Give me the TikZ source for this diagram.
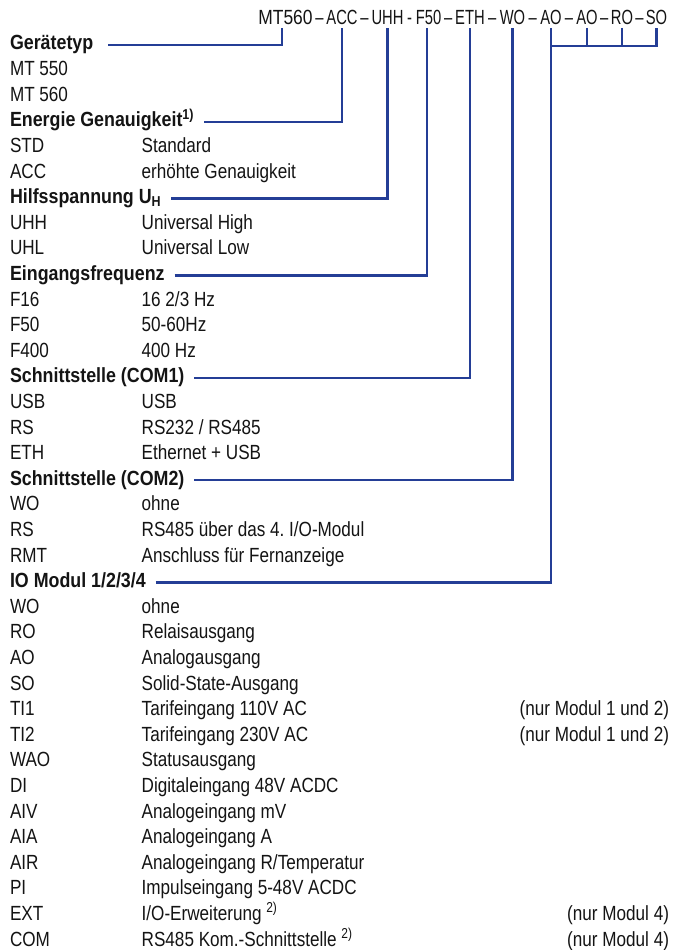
\documentclass[tikz,border=0pt]{standalone}
\usepackage{fontspec}
\usetikzlibrary{calc}
\newfontfamily\condfont[FakeStretch=0.835, BoldFeatures={FakeStretch=0.87}]{Liberation Sans}
\newfontfamily\topfont[FakeStretch=0.72]{Liberation Sans}
\newfontfamily\topwide[FakeStretch=0.85]{Liberation Sans}
\definecolor{linkblue}{RGB}{36,62,150}
\definecolor{ink}{RGB}{20,20,20}
\tikzset{
  txt/.style={inner sep=0pt, outer sep=0pt, anchor=base west, text=ink, font=\condfont\frenchspacing\fontsize{20.5}{24}\selectfont},
  hdr/.style={txt, font=\condfont\bfseries\fontsize{20.5}{24}\selectfont},
  codetop/.style={txt, anchor=base, text depth=0pt, font=\topfont\fontsize{20.5}{24}\selectfont},
  codewide/.style={codetop, font=\topwide\fontsize{20.5}{24}\selectfont},
  note/.style={txt, anchor=base east},
  conn/.style={draw=linkblue, line width=2.4pt, line cap=butt, line join=miter}
}
\newcommand\RowY[1]{{50+(#1-1)*25.6}}
\newcommand\ROWCD[3]{%
  \node[txt] (k#1) at (10,\RowY{#1}) {#2};
  \node[txt] (v#1) at (141.7,\RowY{#1}) {#3};}
\newcommand\HEADR[2]{\node[hdr] (h#1) at (10,\RowY{#1}) {#2};}
\begin{document}
\begin{tikzpicture}[x=1pt,y=-1pt]
\useasboundingbox[fill=white] (0,0) rectangle (683,950);

% ---- order code (top line) ----
\node[codewide] (mt)  at (285.5,24.5) {MT560};
\node[codetop] (acc) at (342,24.5) {ACC};
\node[codetop] (uhh) at (387.5,24.5) {UHH};
\node[codetop] (fff) at (428.5,24.5) {F50};
\node[codetop] (eth) at (470,24.5) {ETH};
\node[codetop] (wo)  at (512.5,24.5) {WO};
\node[codetop] (aoa) at (551,24.5) {AO};
\node[codetop] (aob) at (587,24.5) {AO};
\node[codetop] (ro)  at (622,24.5) {RO};
\node[codetop] (so)  at (656.5,24.5) {SO};
\node[codetop] (s1) at ($(mt.base east)!0.5!(acc.base west)$) {–};
\node[codetop] (s2) at ($(acc.base east)!0.5!(uhh.base west)$) {–};
\node[codetop] (s3) at ($(uhh.base east)!0.5!(fff.base west)$) {-};
\node[codetop] (s4) at ($(fff.base east)!0.5!(eth.base west)$) {–};
\node[codetop] (s5) at ($(eth.base east)!0.5!(wo.base west)$) {–};
\node[codetop] (s6) at ($(wo.base east)!0.5!(aoa.base west)$) {–};
\node[codetop] (s7) at ($(aoa.base east)!0.5!(aob.base west)$) {–};
\node[codetop] (s8) at ($(aob.base east)!0.5!(ro.base west)$) {–};
\node[codetop] (s9) at ($(ro.base east)!0.5!(so.base west)$) {–};

% ---- list ----
\HEADR{1}{Gerätetyp}
\node[txt] (k2) at (10,\RowY{2}) {MT 550};
\node[txt] (k3) at (10,\RowY{3}) {MT 560};
\HEADR{4}{Energie Genauigkeit\textsuperscript{1)}}
\ROWCD{5}{STD}{Standard}
\ROWCD{6}{ACC}{erhöhte Genauigkeit}
\HEADR{7}{Hilfsspannung U\textsubscript{H}}
\ROWCD{8}{UHH}{Universal High}
\ROWCD{9}{UHL}{Universal Low}
\HEADR{10}{Eingangsfrequenz}
\ROWCD{11}{F16}{16 2/3 Hz}
\ROWCD{12}{F50}{50-60Hz}
\ROWCD{13}{F400}{400 Hz}
\HEADR{14}{Schnittstelle (COM1)}
\ROWCD{15}{USB}{USB}
\ROWCD{16}{RS}{RS232 / RS485}
\ROWCD{17}{ETH}{Ethernet + USB}
\HEADR{18}{Schnittstelle (COM2)}
\ROWCD{19}{WO}{ohne}
\ROWCD{20}{RS}{RS485 über das 4. I/O-Modul}
\ROWCD{21}{RMT}{Anschluss für Fernanzeige}
\HEADR{22}{IO Modul 1/2/3/4}
\ROWCD{23}{WO}{ohne}
\ROWCD{24}{RO}{Relaisausgang}
\ROWCD{25}{AO}{Analogausgang}
\ROWCD{26}{SO}{Solid-State-Ausgang}
\ROWCD{27}{TI1}{Tarifeingang 110V AC}
\ROWCD{28}{TI2}{Tarifeingang 230V AC}
\ROWCD{29}{WAO}{Statusausgang}
\ROWCD{30}{DI}{Digitaleingang 48V ACDC}
\ROWCD{31}{AIV}{Analogeingang mV}
\ROWCD{32}{AIA}{Analogeingang A}
\ROWCD{33}{AIR}{Analogeingang R/Temperatur}
\ROWCD{34}{PI}{Impulseingang 5-48V ACDC}
\ROWCD{35}{EXT}{I/O-Erweiterung \textsuperscript{2)}}
\ROWCD{36}{COM}{RS485 Kom.-Schnittstelle \textsuperscript{2)}}
\node[note] (n27) at (669,\RowY{27}) {(nur Modul 1 und 2)};
\node[note] (n28) at (669,\RowY{28}) {(nur Modul 1 und 2)};
\node[note] (n35) at (669,\RowY{35}) {(nur Modul 4)};
\node[note] (n36) at (669,\RowY{36}) {(nur Modul 4)};

% ---- connectors ----
\coordinate (br) at (0,46);
\draw[conn] ([shift={(15pt,5pt)}]h1.base east) -| ([shift={(-3.5pt,-3.5pt)}]mt.south);
\draw[conn] ([shift={(10pt,5pt)}]h4.base east) -| ([yshift=-3.5pt]acc.south);
\draw[conn] ([shift={(10pt,5pt)}]h7.base east) -| ([yshift=-3.5pt]uhh.south);
\draw[conn] ([shift={(10pt,5pt)}]h10.base east) -| ([shift={(-1.5pt,-3.5pt)}]fff.south);
\draw[conn] ([shift={(10pt,5pt)}]h14.base east) -| ([yshift=-3.5pt]eth.south);
\draw[conn] ([shift={(10pt,5pt)}]h18.base east) -| ([yshift=-3.5pt]wo.south);
\draw[conn] ([shift={(10pt,5pt)}]h22.base east) -| ([yshift=-3.5pt]aoa.south);
\draw[conn] (aoa.south |- br) -| ([yshift=-3.5pt]so.south);
\draw[conn] ([yshift=-3.5pt]aob.south) -- (aob.south |- br);
\draw[conn] ([yshift=-3.5pt]ro.south) -- (ro.south |- br);
\end{tikzpicture}
\end{document}
